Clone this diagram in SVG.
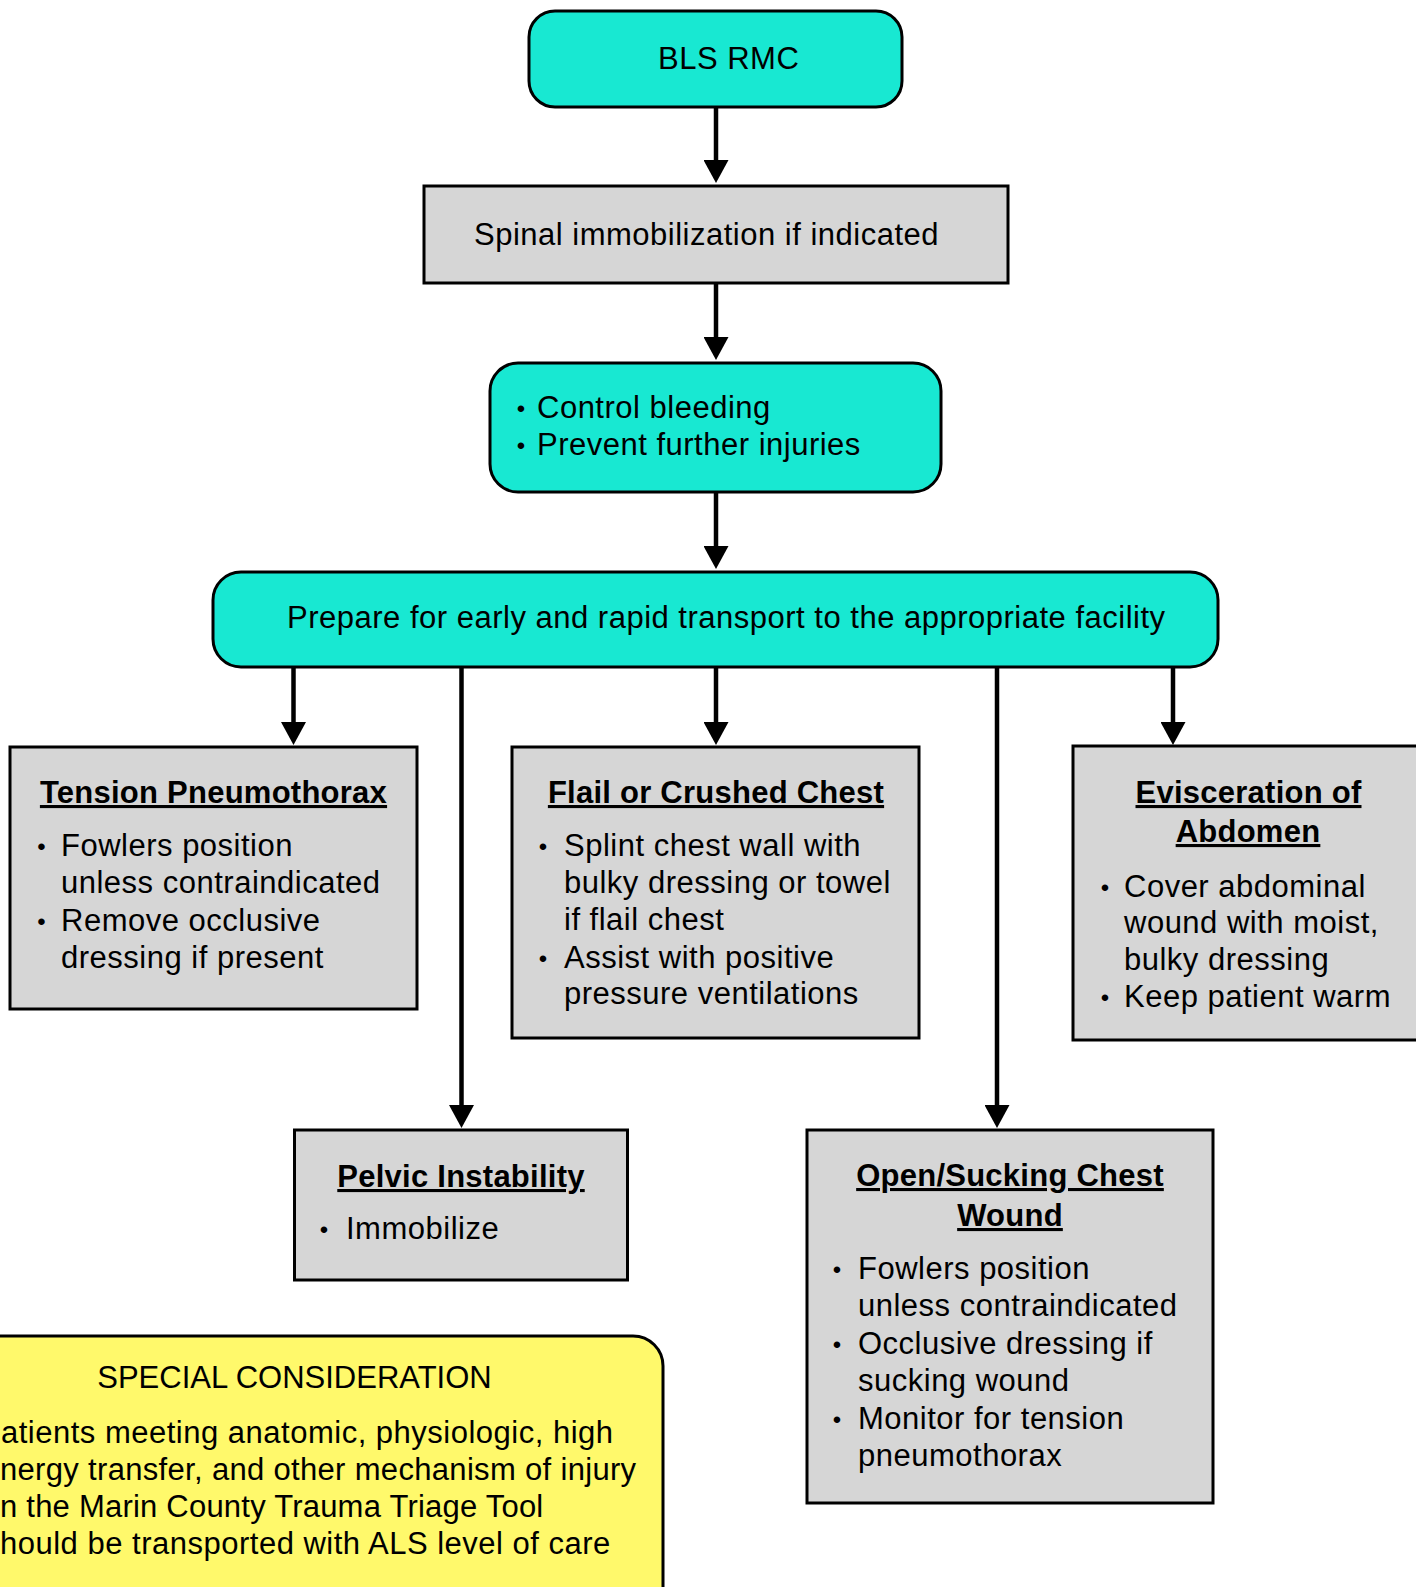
<svg xmlns="http://www.w3.org/2000/svg" width="1416" height="1587" viewBox="0 0 1416 1587">
  <style>
    .cyan { fill: #18e8d2; stroke: #000; stroke-width: 3; }
    .gray { fill: #d6d6d6; stroke: #000; stroke-width: 3; }
    .yellow { fill: #fff96b; stroke: #000; stroke-width: 3; }
    text { font-family: "Liberation Sans", Arial, Helvetica, sans-serif; font-size: 31px; letter-spacing: 0.5px; fill: #000; }
    .c { text-anchor: middle; }
    .t { font-weight: bold; text-decoration: underline; letter-spacing: 0.25px; text-anchor: middle; }
    .b { font-size: 24px; text-anchor: middle; letter-spacing: 0; }
    .conn line { stroke: #000; stroke-width: 4.5; }
  </style>
  <defs>
    <marker id="arrow" viewBox="0 0 23 25" refX="11" refY="12.5" markerWidth="23" markerHeight="25" markerUnits="userSpaceOnUse" orient="auto">
      <path d="M0,0 L23,12.5 L0,25 Z" fill="#000"/>
    </marker>
  </defs>

  <rect width="1416" height="1587" fill="#fff"/>

  <!-- connectors: each line stops 12px short of the tip, the marker supplies the rest -->
  <g id="connectors" class="conn">
    <line x1="716" y1="107" x2="716" y2="171" marker-end="url(#arrow)"/>
    <line x1="716" y1="283" x2="716" y2="348" marker-end="url(#arrow)"/>
    <line x1="716" y1="492" x2="716" y2="557" marker-end="url(#arrow)"/>
    <line x1="293.5" y1="667" x2="293.5" y2="733" marker-end="url(#arrow)"/>
    <line x1="461.5" y1="667" x2="461.5" y2="1116" marker-end="url(#arrow)"/>
    <line x1="716" y1="667" x2="716" y2="733" marker-end="url(#arrow)"/>
    <line x1="997" y1="667" x2="997" y2="1116" marker-end="url(#arrow)"/>
    <line x1="1173" y1="667" x2="1173" y2="733" marker-end="url(#arrow)"/>
  </g>

  <g id="bls-rmc">
    <rect class="cyan" x="529" y="11" width="373" height="96" rx="26"/>
    <text x="658" y="69">BLS RMC</text>
  </g>

  <g id="spinal">
    <rect class="gray" x="424" y="186" width="584" height="97"/>
    <text x="474" y="245">Spinal immobilization if indicated</text>
  </g>

  <g id="control-bleeding">
    <rect class="cyan" x="490" y="363" width="451" height="129" rx="28"/>
    <text class="b" x="521" y="417">•</text>
    <text x="537" y="418">Control bleeding</text>
    <text class="b" x="521" y="454">•</text>
    <text x="537" y="455">Prevent further injuries</text>
  </g>

  <g id="transport">
    <rect class="cyan" x="213" y="572" width="1005" height="95" rx="28"/>
    <text x="287" y="628">Prepare for early and rapid transport to the appropriate facility</text>
  </g>

  <g id="tension-pneumothorax">
    <rect class="gray" x="10" y="747" width="407" height="262"/>
    <text class="t" x="213.5" y="803">Tension Pneumothorax</text>
    <text class="b" x="41.5" y="855">•</text>
    <text x="61" y="856">Fowlers position</text>
    <text x="61" y="893">unless contraindicated</text>
    <text class="b" x="41.5" y="930">•</text>
    <text x="61" y="931">Remove occlusive</text>
    <text x="61" y="968">dressing if present</text>
  </g>

  <g id="flail-chest">
    <rect class="gray" x="512" y="747" width="407" height="291"/>
    <text class="t" x="716" y="803">Flail or Crushed Chest</text>
    <text class="b" x="543" y="855">•</text>
    <text x="564" y="856">Splint chest wall with</text>
    <text x="564" y="893">bulky dressing or towel</text>
    <text x="564" y="930">if flail chest</text>
    <text class="b" x="543" y="967">•</text>
    <text x="564" y="968">Assist with positive</text>
    <text x="564" y="1004">pressure ventilations</text>
  </g>

  <g id="evisceration">
    <rect class="gray" x="1073" y="746" width="360" height="294"/>
    <text class="t" x="1248.5" y="803">Evisceration of</text>
    <text class="t" x="1248" y="842">Abdomen</text>
    <text class="b" x="1105" y="896">•</text>
    <text x="1124" y="897">Cover abdominal</text>
    <text x="1124" y="933">wound with moist,</text>
    <text x="1124" y="970">bulky dressing</text>
    <text class="b" x="1105" y="1006">•</text>
    <text x="1124" y="1007">Keep patient warm</text>
  </g>

  <g id="pelvic-instability">
    <rect class="gray" x="294.5" y="1130" width="333" height="150"/>
    <text class="t" x="461" y="1187">Pelvic Instability</text>
    <text class="b" x="324" y="1238">•</text>
    <text x="346" y="1239">Immobilize</text>
  </g>

  <g id="open-chest-wound">
    <rect class="gray" x="807" y="1130" width="406" height="373"/>
    <text class="t" x="1010" y="1186">Open/Sucking Chest</text>
    <text class="t" x="1010" y="1226">Wound</text>
    <text class="b" x="837" y="1278">•</text>
    <text x="858" y="1279">Fowlers position</text>
    <text x="858" y="1316">unless contraindicated</text>
    <text class="b" x="837" y="1353">•</text>
    <text x="858" y="1354">Occlusive dressing if</text>
    <text x="858" y="1391">sucking wound</text>
    <text class="b" x="837" y="1428">•</text>
    <text x="858" y="1429">Monitor for tension</text>
    <text x="858" y="1466">pneumothorax</text>
  </g>

  <g id="special-consideration">
    <rect class="yellow" x="-40" y="1336" width="703" height="300" rx="30"/>
    <text class="c" x="294.5" y="1388" style="letter-spacing:0">SPECIAL CONSIDERATION</text>
    <text x="1" y="1443">atients meeting anatomic, physiologic, high</text>
    <text x="0" y="1480" style="letter-spacing:0.32px">nergy transfer, and other mechanism of injury</text>
    <text x="0" y="1517" style="letter-spacing:0.22px">n the Marin County Trauma Triage Tool</text>
    <text x="0" y="1554">hould be transported with ALS level of care</text>
  </g>
</svg>
